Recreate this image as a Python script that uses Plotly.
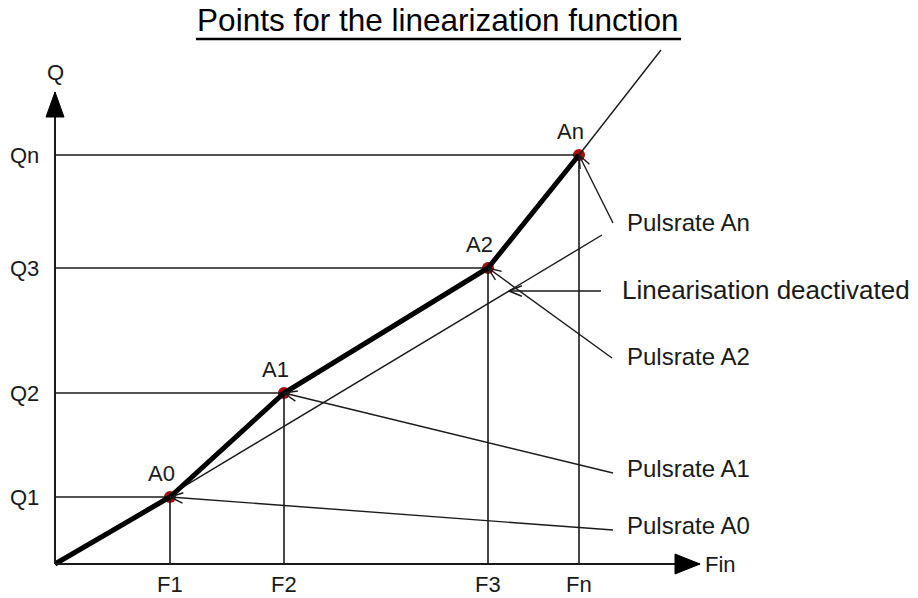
import numpy as np
import plotly.graph_objects as go

# Linearization support points (flow F vs. quantity Q, schematic units)
point_names = ["A0", "A1", "A2", "An"]
f_labels = ["F1", "F2", "F3", "Fn"]
q_labels = ["Q1", "Q2", "Q3", "Qn"]
f_vals = [1.15, 2.29, 4.33, 5.24]
q_vals = [0.67, 1.71, 2.96, 4.09]

# Straight characteristic when linearisation is switched off
linear_end = (5.47, 3.29)
# Continuation of the last segment beyond An
extension_end = (6.06, 5.14)

# Axis extents
x_axis_end = 6.45
y_axis_end = 4.72

# Leader lines: label text, start of leader (x, y), text anchor (x, y), target
leader_labels = ["Pulsrate An", "Linearisation deactivated", "Pulsrate A2",
                 "Pulsrate A1", "Pulsrate A0"]
leader_start_x = [5.58, 5.46, 5.57, 5.58, 5.58]
leader_start_y = [3.41, 2.73, 2.06, 0.91, 0.34]
leader_text_x = [5.70, 5.65, 5.70, 5.70, 5.70]
leader_text_y = [3.42, 2.74, 2.08, 0.96, 0.39]
leader_font = [24, 26, 24, 24, 24]

FONT = "Liberation Sans, Arial, sans-serif"
INK = "#1a1a1a"

fig = go.Figure()


def add_line(xs, ys, width=1.5, color=INK):
    fig.add_trace(go.Scatter(x=xs, y=ys, mode="lines",
                             line=dict(color=color, width=width),
                             hoverinfo="skip"))


# Red markers at the support points (drawn first so lines pass over them)
fig.add_trace(go.Scatter(x=f_vals, y=q_vals, mode="markers",
                         marker=dict(size=12, color="#a80c0c"),
                         hoverinfo="skip"))

# Guide lines from the axes to every support point
for f, q in zip(f_vals, q_vals):
    add_line([0, f], [q, q], width=1.6)
    add_line([f, f], [0, q], width=1.6)

# Uncorrected straight line
add_line([0, linear_end[0]], [0, linear_end[1]], width=1.4)

# Extension past the last point
add_line([f_vals[-1], extension_end[0]], [q_vals[-1], extension_end[1]], width=1.4)

# Linearised characteristic (thick polyline)
add_line([0] + f_vals, [0] + q_vals, width=5, color="#000000")

# Axes with filled arrow heads
add_line([0, x_axis_end], [0, 0], width=2)
add_line([0, 0], [0, y_axis_end], width=2)
head_len, head_half = 0.25, 0.10
fig.add_trace(go.Scatter(
    x=[x_axis_end, x_axis_end - head_len, x_axis_end - head_len, x_axis_end],
    y=[0, head_half, -head_half, 0], mode="lines", fill="toself",
    fillcolor="#000", line=dict(color="#000", width=1), hoverinfo="skip"))
fig.add_trace(go.Scatter(
    x=[0, head_half * 0.9, -head_half * 0.9, 0],
    y=[y_axis_end, y_axis_end - head_len, y_axis_end - head_len, y_axis_end],
    mode="lines", fill="toself", fillcolor="#000",
    line=dict(color="#000", width=1), hoverinfo="skip"))

# Leader lines with open V arrow heads
targets = [(f_vals[3], q_vals[3]),
           (leader_start_y[1] * linear_end[0] / linear_end[1], leader_start_y[1]),
           (f_vals[2], q_vals[2]),
           (f_vals[1], q_vals[1]),
           (f_vals[0], q_vals[0])]
arm_len = 0.14
arm_ang = np.deg2rad(22)
for sx, sy, (tx, ty) in zip(leader_start_x, leader_start_y, targets):
    add_line([sx, tx], [sy, ty], width=1.4)
    back = np.arctan2(sy - ty, sx - tx)
    for s in (-1, 1):
        a = back + s * arm_ang
        add_line([tx, tx + arm_len * np.cos(a)], [ty, ty + arm_len * np.sin(a)],
                 width=1.4)

annotations = []
for txt, x, y, fs in zip(leader_labels, leader_text_x, leader_text_y, leader_font):
    annotations.append(dict(x=x, y=y, text=txt, showarrow=False, xanchor="left",
                            yanchor="middle", font=dict(size=fs, color=INK)))

# Point names
for name, f, q in zip(point_names, f_vals, q_vals):
    annotations.append(dict(x=f, y=q, text=name, showarrow=False, xshift=-9,
                            yshift=24, font=dict(size=22, color=INK)))

# Axis value labels
for lab, q in zip(q_labels, q_vals):
    annotations.append(dict(x=-0.14, y=q, text=lab, showarrow=False,
                            xanchor="right", yanchor="middle",
                            font=dict(size=22, color=INK)))
for lab, f in zip(f_labels, f_vals):
    annotations.append(dict(x=f, y=-0.20, text=lab, showarrow=False,
                            xanchor="center", yanchor="middle",
                            font=dict(size=22, color=INK)))

# Axis names
annotations.append(dict(x=x_axis_end + 0.03, y=0, text="Fin", showarrow=False,
                        xanchor="left", yanchor="middle",
                        font=dict(size=22, color=INK)))
annotations.append(dict(x=0, y=y_axis_end + 0.20, text="Q", showarrow=False,
                        xanchor="center", yanchor="middle",
                        font=dict(size=22, color=INK)))

fig.update_layout(
    width=918, height=598,
    margin=dict(l=0, r=0, t=0, b=0),
    paper_bgcolor="white", plot_bgcolor="white",
    showlegend=False,
    font=dict(family=FONT),
    title=dict(text="Points for the linearization function",
               x=0.477, xanchor="center", y=1 - 20 / 598, yanchor="middle",
               font=dict(size=31.5, color="#000", family=FONT)),
    xaxis=dict(range=[-0.55, 8.63], visible=False, fixedrange=True),
    yaxis=dict(range=[-0.34, 5.64], visible=False, fixedrange=True),
    annotations=annotations,
    # underline beneath the heading
    shapes=[dict(type="line", xref="paper", yref="paper",
                 x0=196 / 918, x1=681 / 918, y0=1 - 39 / 598, y1=1 - 39 / 598,
                 line=dict(color="#000", width=2.5))],
)

fig.write_html("out.html")
